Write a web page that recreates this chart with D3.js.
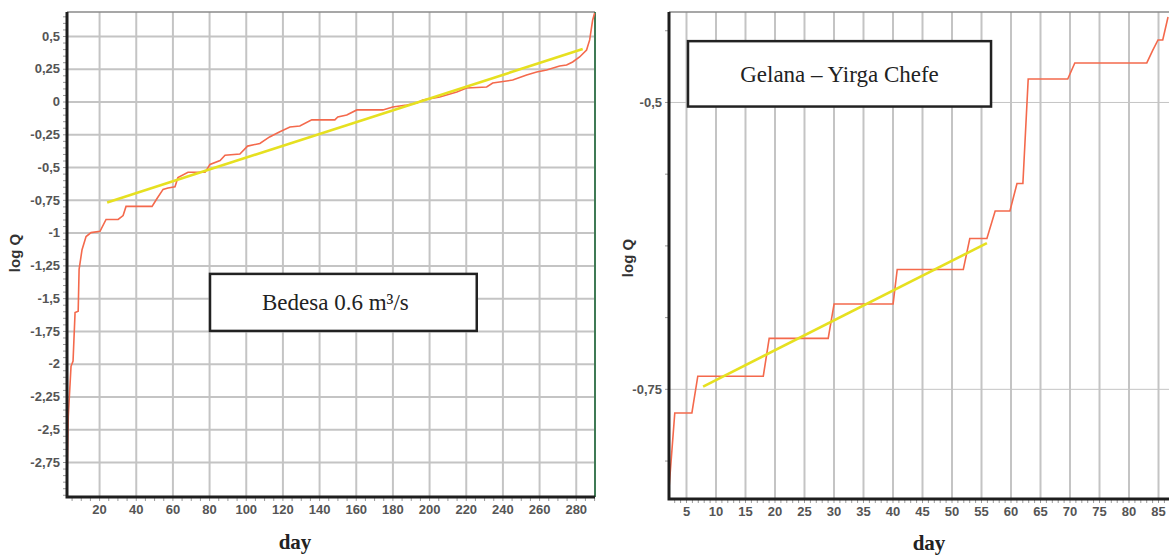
<!DOCTYPE html>
<html>
<head>
<meta charset="utf-8">
<script src="https://cdn.jsdelivr.net/npm/d3@7"></script>
<style>
  body { margin: 0; background: #fff; }
  svg { display: block; }
</style>
</head>
<body>
<svg id="chart" width="1169" height="556"></svg>
<script>
// Bedesa flow duration (day vs log Q)
const bedesaDays = [2.5, 3.2, 4.7, 5.8, 6.9, 8.6, 9.1, 10.7, 12.9, 15.6, 20.5, 23.8, 30.4, 33.1, 34.7, 48.9, 51.6, 54.9, 57.6, 61.4, 63, 68.5, 77.8, 80.5, 86, 88.7, 96.8, 101, 107.7, 113, 118.6, 124.1, 129.5, 136, 148.6, 150.2, 155.1, 160.6, 174.8, 180.2, 187.8, 193.3, 196.6, 205.8, 215.1, 220.5, 231.4, 234.7, 245.6, 253.2, 258.7, 264.1, 271.2, 275, 278.3, 282.1, 285.9, 287.6, 289.2, 290.3];
const bedesaLogQ = [-2.88, -2.4, -2.02, -1.98, -1.61, -1.6, -1.28, -1.13, -1.03, -1.0, -0.99, -0.9, -0.9, -0.87, -0.8, -0.8, -0.74, -0.67, -0.66, -0.65, -0.58, -0.54, -0.54, -0.48, -0.45, -0.41, -0.4, -0.34, -0.32, -0.27, -0.23, -0.194, -0.187, -0.14, -0.14, -0.118, -0.103, -0.064, -0.064, -0.042, -0.026, -0.011, 0.012, 0.035, 0.073, 0.103, 0.111, 0.141, 0.164, 0.203, 0.225, 0.241, 0.271, 0.279, 0.302, 0.34, 0.393, 0.47, 0.62, 0.675];
const bedesaTrendDays = [24.4, 283.8];
const bedesaTrendLogQ = [-0.77, 0.40];

// Gelana – Yirga Chefe flow duration
const gelanaDays = [2.1, 3.1, 6.0, 7.0, 18.1, 19.1, 29.1, 30.1, 40.1, 40.8, 52, 53.1, 56.0, 57.4, 59.9, 61.1, 62.1, 63, 69.7, 70.9, 83.1, 84.1, 85, 85.8, 86.7];
const gelanaLogQ = [-0.838, -0.771, -0.771, -0.739, -0.739, -0.706, -0.706, -0.676, -0.676, -0.646, -0.646, -0.619, -0.619, -0.595, -0.595, -0.571, -0.571, -0.48, -0.48, -0.466, -0.466, -0.455, -0.446, -0.446, -0.426];
const gelanaTrendDays = [7.9, 56.0];
const gelanaTrendLogQ = [-0.748, -0.623];

// tick labels
const bedesaXTicks = [20, 40, 60, 80, 100, 120, 140, 160, 180, 200, 220, 240, 260, 280];
const bedesaYTicks = [0.5, 0.25, 0, -0.25, -0.5, -0.75, -1, -1.25, -1.5, -1.75, -2, -2.25, -2.5, -2.75];
const gelanaXTicks = [5, 10, 15, 20, 25, 30, 35, 40, 45, 50, 55, 60, 65, 70, 75, 80, 85];
const gelanaYTicks = [-0.5, -0.75];

const locale = d3.formatLocale({ decimal: ",", thousands: ".", grouping: [3], currency: ["", ""], minus: "-" });
const fmt = locale.format("~g");

const svg = d3.select("#chart");

function drawPanel(p) {
  const x = d3.scaleLinear().domain(p.xDomain).range([p.left, p.right]);
  const y = d3.scaleLinear().domain(p.yDomain).range([p.bottom, p.top]);
  const g = svg.append("g");

  // vertical grid
  g.append("g")
    .attr("transform", `translate(0,${p.bottom})`)
    .call(d3.axisBottom(x).tickValues(p.xTicks).tickSize(-(p.bottom - p.top)).tickFormat(""))
    .call(a => a.select(".domain").remove())
    .call(a => a.selectAll("line").attr("stroke", "#c4c4c4").attr("stroke-width", 2));

  // horizontal grid
  g.append("g")
    .attr("transform", `translate(${p.left},0)`)
    .call(d3.axisLeft(y).tickValues(p.yTicks).tickSize(-(p.right - p.left)).tickFormat(""))
    .call(a => a.select(".domain").remove())
    .call(a => a.selectAll("line").attr("stroke", "#c4c4c4").attr("stroke-width", p.hGridWidth));

  // frame top / right
  g.append("line").attr("x1", p.left).attr("x2", p.right).attr("y1", p.top).attr("y2", p.top)
    .attr("stroke", "#8a8a8a").attr("stroke-width", 1.5);
  if (p.rightBorder) {
    g.append("line").attr("x1", p.right).attr("x2", p.right).attr("y1", p.top).attr("y2", p.bottom)
      .attr("stroke", "#3f7a55").attr("stroke-width", 2);
  }

  // data lines
  const line = d3.line().x(d => x(d[0])).y(d => y(d[1]));
  g.append("path")
    .datum(d3.zip(p.days, p.logQ))
    .attr("d", line)
    .attr("fill", "none").attr("stroke", "#f4694c").attr("stroke-width", 1.6);
  g.append("path")
    .datum(d3.zip(p.trendDays, p.trendLogQ))
    .attr("d", line)
    .attr("fill", "none").attr("stroke", "#e6e020").attr("stroke-width", 2.6);

  // minor ticks
  g.append("g")
    .attr("transform", `translate(0,${p.bottom})`)
    .call(d3.axisBottom(x).tickValues(d3.range(p.xMinor[0], p.xDomain[1], p.xMinor[1])).tickSize(4).tickFormat(""))
    .call(a => a.select(".domain").remove())
    .call(a => a.selectAll("line").attr("stroke", "#9a9a9a"));
  g.append("g")
    .attr("transform", `translate(${p.left},0)`)
    .call(d3.axisLeft(y).tickValues(d3.range(p.yMinor[0], p.yDomain[1], p.yMinor[1])).tickSize(4).tickFormat(""))
    .call(a => a.select(".domain").remove())
    .call(a => a.selectAll("line").attr("stroke", "#9a9a9a"));

  // tick labels
  g.append("g")
    .attr("transform", `translate(0,${p.bottom})`)
    .call(d3.axisBottom(x).tickValues(p.xTicks).tickSize(0).tickPadding(8).tickFormat(fmt))
    .call(a => a.select(".domain").remove())
    .call(a => a.selectAll("text").attr("font-family", "Liberation Sans, Arial, sans-serif")
      .attr("font-size", 13).attr("font-weight", "bold").attr("fill", "#555"));
  g.append("g")
    .attr("transform", `translate(${p.left},0)`)
    .call(d3.axisLeft(y).tickValues(p.yTicks).tickSize(0).tickPadding(p.yPad).tickFormat(fmt))
    .call(a => a.select(".domain").remove())
    .call(a => a.selectAll("text").attr("font-family", "Liberation Sans, Arial, sans-serif")
      .attr("font-size", 13).attr("font-weight", "bold").attr("fill", "#555"));

  // axis lines
  g.append("path")
    .attr("d", `M${p.left},${p.top}V${p.bottom}H${p.right}`)
    .attr("fill", "none").attr("stroke", "#1e1e1e").attr("stroke-width", 3);

  // annotation box
  const bx = x(p.box[0]), bw = x(p.box[1]) - bx;
  const by = y(p.box[2]), bh = y(p.box[3]) - by;
  g.append("rect").attr("x", bx).attr("y", by).attr("width", bw).attr("height", bh)
    .attr("fill", "#fff").attr("stroke", "#222").attr("stroke-width", 2.5);
  g.append("text")
    .attr("x", bx + bw / 2 + p.titleShift).attr("y", by + bh / 2 + 8)
    .attr("text-anchor", "middle")
    .attr("font-family", "Liberation Serif, Times New Roman, serif")
    .attr("font-size", 23).attr("fill", "#222")
    .text(p.title);

  // axis titles
  g.append("text")
    .attr("transform", `translate(${p.yLabelX},${p.yLabelY}) rotate(-90)`)
    .attr("text-anchor", "middle")
    .attr("font-family", "Liberation Sans, Arial, sans-serif")
    .attr("font-size", 15).attr("font-weight", "bold").attr("fill", "#333")
    .text("log Q");
  g.append("text")
    .attr("x", p.xLabelX).attr("y", p.xLabelY)
    .attr("text-anchor", "middle")
    .attr("font-family", "Liberation Serif, Times New Roman, serif")
    .attr("font-size", 21).attr("font-weight", "bold").attr("fill", "#222")
    .text("day");
}

drawPanel({
  left: 67, right: 595, top: 12, bottom: 497,
  xDomain: [2.5, 290.5], yDomain: [-3.017, 0.683],
  xTicks: bedesaXTicks, yTicks: bedesaYTicks,
  xMinor: [5, 5], yMinor: [-3, 0.05],
  hGridWidth: 2, rightBorder: true, yPad: 7,
  days: bedesaDays, logQ: bedesaLogQ,
  trendDays: bedesaTrendDays, trendLogQ: bedesaTrendLogQ,
  box: [80.5, 226, -1.315, -1.75], title: "Bedesa 0.6 m³/s", titleShift: -8,
  yLabelX: 20, yLabelY: 253, xLabelX: 295, xLabelY: 549
});

drawPanel({
  left: 669, right: 1175, top: 12, bottom: 499,
  xDomain: [2.12, 87.88], yDomain: [-0.846, -0.4216],
  xTicks: gelanaXTicks, yTicks: gelanaYTicks,
  xMinor: [3, 1], yMinor: [-0.8125, 0.0625],
  hGridWidth: 1, rightBorder: false, yPad: 7,
  days: gelanaDays, logQ: gelanaLogQ,
  trendDays: gelanaTrendDays, trendLogQ: gelanaTrendLogQ,
  box: [5.34, 56.7, -0.447, -0.504], title: "Gelana – Yirga Chefe", titleShift: 0,
  yLabelX: 633, yLabelY: 258, xLabelX: 929, xLabelY: 550
});
</script>
</body>
</html>
